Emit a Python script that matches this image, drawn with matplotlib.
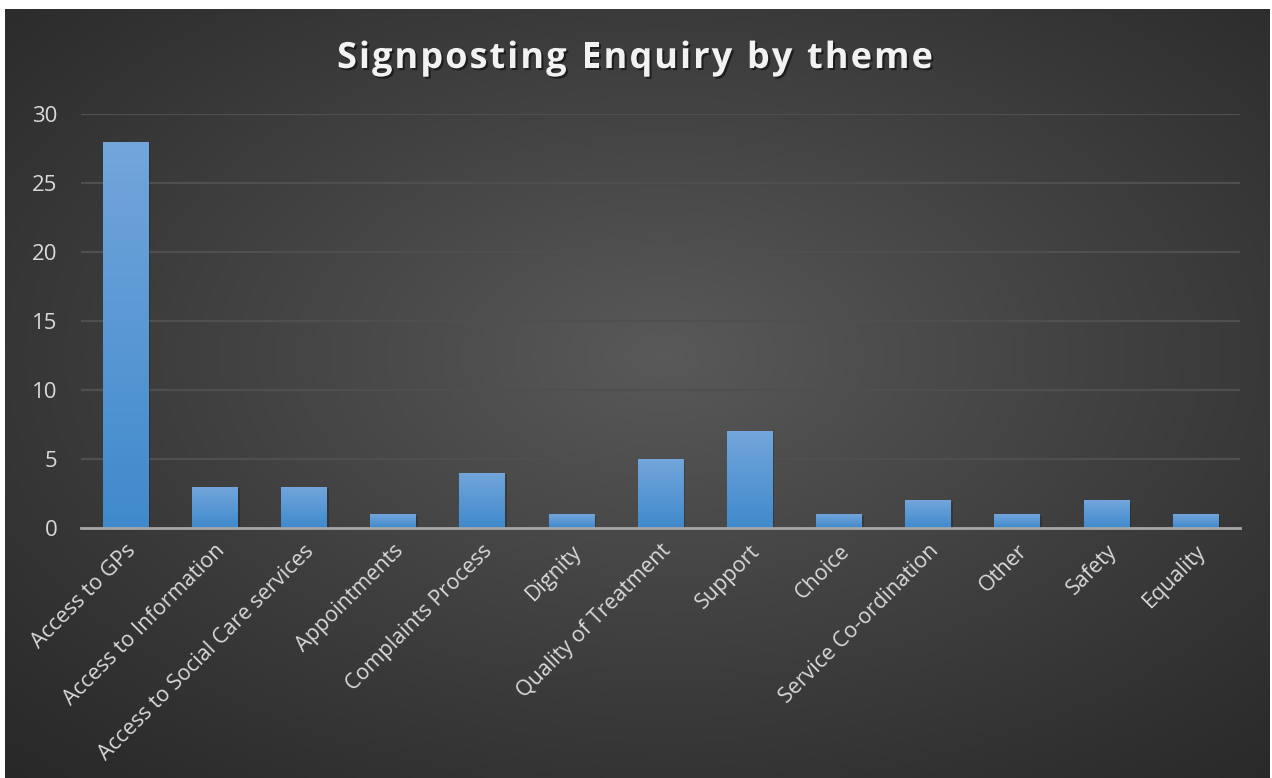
import numpy as np
import matplotlib
matplotlib.use("Agg")
import matplotlib.pyplot as plt
import matplotlib.patheffects as pe

# chart data
themes = ["Access to GPs", "Access to Information", "Access to Social Care services",
          "Appointments", "Complaints Process", "Dignity", "Quality of Treatment",
          "Support", "Choice", "Service Co-ordination", "Other", "Safety", "Equality"]
counts = [28, 3, 3, 1, 4, 1, 5, 7, 1, 2, 1, 2, 1]
y_ticks = [0, 5, 10, 15, 20, 25, 30]
title = "Signposting Enquiry by theme"

W, H = 1272, 778
fig = plt.figure(figsize=(W / 100, H / 100), dpi=100, facecolor="white")

# dark radial background (chart area sits inside a thin white border)
bg = fig.add_axes([5 / W, 0, 1265 / W, 769 / H])
bg.set_axis_off()
yy, xx = np.mgrid[0:1:300j, 0:1:500j]
r = np.sqrt(((xx - 0.52) / 0.75) ** 2 + ((yy - 0.55) / 0.75) ** 2)
shade = np.clip(1 - r, 0, 1)
lo, hi = np.array([0.16, 0.16, 0.16]), np.array([0.35, 0.35, 0.35])
img = lo + (hi - lo) * shade[..., None] ** 1.1
bg.imshow(img, extent=[0, 1, 0, 1], aspect="auto", origin="lower")
bg.set_xlim(0, 1)
bg.set_ylim(0, 1)

ax = fig.add_axes([81 / W, (H - 528) / H, 1159 / W, 414 / H])
ax.patch.set_alpha(0)
x = np.arange(len(themes))
bars = ax.bar(x, counts, width=0.51, color="#5b9bd5", zorder=3,
              path_effects=[pe.SimplePatchShadow(offset=(1.5, -1), shadow_rgbFace="black", alpha=0.2),
                            pe.Normal()])

# vertical gradient inside each bar
grad = np.linspace(0, 1, 100)[:, None]
top_c, bot_c = np.array([0.45, 0.65, 0.86]), np.array([0.25, 0.54, 0.80])
gimg = bot_c + (top_c - bot_c) * grad[..., None]
for b in bars:
    im = ax.imshow(np.repeat(gimg, 2, axis=1), extent=[b.get_x(), b.get_x() + b.get_width(), 0, b.get_height()],
                   aspect="auto", origin="lower", zorder=4)
    im.set_clip_path(b)

ax.set_xlim(-0.5, len(themes) - 0.5)
ax.set_ylim(0, 30)
ax.set_yticks(y_ticks)
ax.yaxis.grid(True, color="#4f4f4f", linewidth=1.6, zorder=0)
ax.set_axisbelow(True)
for s in ["top", "right", "left"]:
    ax.spines[s].set_visible(False)
ax.spines["bottom"].set_color("#a6a6a6")
ax.spines["bottom"].set_linewidth(2)
ax.spines["bottom"].set_zorder(5)

ax.tick_params(axis="y", length=0, pad=17, labelsize=16, labelcolor="#d9d9d9")
ax.tick_params(axis="x", length=0, pad=9)
for lab in ax.get_yticklabels():
    lab.set_fontfamily("Open Sans")
ax.set_xticks(x)
ax.set_xticklabels(themes, rotation=45, ha="right", rotation_mode="anchor",
                   fontsize=15.5, color="#d9d9d9", fontfamily="Open Sans")

# title drawn letter by letter to get the wide letter spacing
renderer = fig.canvas.get_renderer()
tkw = dict(fontsize=26, fontweight="bold", color="#f2f2f2", fontfamily="Open Sans",
           va="center", ha="left",
           path_effects=[pe.withSimplePatchShadow(offset=(1.5, -1.5), shadow_rgbFace="black", alpha=0.5)])
spacing = 2.0
widths = []
for ch in title:
    t = fig.text(0, 0, ch if ch != " " else "n", **tkw)
    w = t.get_window_extent(renderer).width
    if ch == " ":
        w *= 0.45
    widths.append(w)
    t.remove()
total = sum(widths) + spacing * (len(title) - 1)
cx = 635 - total / 2
for ch, w in zip(title, widths):
    if ch != " ":
        fig.text(cx / W, (H - 59) / H, ch, **tkw)
    cx += w + spacing

fig.savefig("out.png", dpi=100, facecolor="white")
